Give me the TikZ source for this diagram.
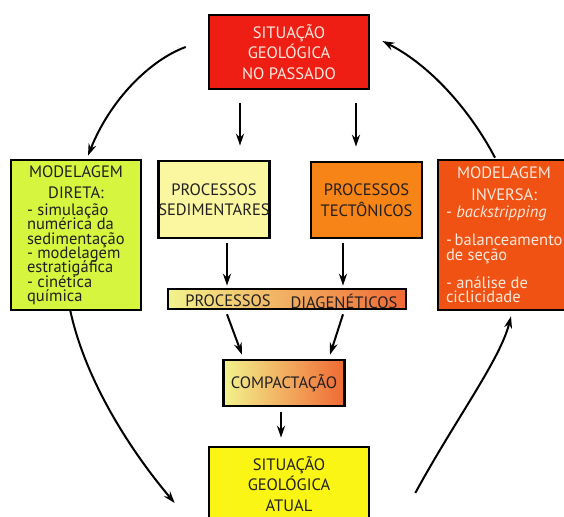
\documentclass[tikz,border=0pt]{standalone}
\usepackage{fontspec}
\setmainfont{PT Sans}
\usetikzlibrary{arrows.meta}
\definecolor{txt}{RGB}{35,31,32}
\definecolor{cRed}{RGB}{238,30,20}
\definecolor{cLight}{RGB}{255,232,220}
\definecolor{cGreen}{RGB}{214,245,62}
\definecolor{cSed}{RGB}{250,247,160}
\definecolor{cTect}{RGB}{246,132,22}
\definecolor{cInv}{RGB}{240,82,20}
\definecolor{cGradL}{RGB}{242,243,140}
\definecolor{cGradR}{RGB}{240,105,52}
\definecolor{cAtual}{RGB}{250,245,20}
\begin{document}
\begin{tikzpicture}[x=1pt,y=-1pt,
  box/.style={draw=black, line width=2.6pt, inner sep=0pt, text=txt, align=center,
    font=\fontsize{16.5}{20.5}\selectfont},
  lbl/.style={inner sep=0pt, text=txt, font=\fontsize{16.5}{20}\selectfont},
  arr/.style={line width=2pt, -{Stealth[length=12pt,width=8pt]}}]
\path[use as bounding box] (0,0) rectangle (564,516);
\fill[white] (0,0) rectangle (564,516);
\clip (0,0) rectangle (564,516);

\node[box, fill=cRed, text=cLight, minimum width=160pt, minimum height=74pt] (past) at (289,52) {SITUAÇÃO\\GEOLÓGICA\\NO PASSADO};
\node[box, fill=cSed, minimum width=110pt, minimum height=77pt] (sed) at (214,199.5) {PROCESSOS\\SEDIMENTARES};
\node[box, fill=cTect, minimum width=111pt, minimum height=76pt] (tect) at (366.5,200) {PROCESSOS\\TECTÔNICOS};
\node[box, fill=cGreen, minimum width=130pt, minimum height=150pt, font=\fontsize{16.5}{14.3}\selectfont] (dir) at (76,235)
 {\parbox{98pt}{\lineskiplimit=-50pt\hyphenpenalty=10000\centering MODELAGEM\\[7pt]DIRETA:\par\vspace{3pt}\raggedright
  \hangindent=6pt\hangafter=1 \mbox{- simulação}\\numérica da\\\mbox{sedimentação}\par
  \hangindent=6pt\hangafter=1 \mbox{- modelagem}\\estratigáfica\par
  \hangindent=6pt\hangafter=1 \mbox{- cinética}\\química\par}};
\node[box, fill=cInv, text=cLight, minimum width=132pt, minimum height=150pt, font=\fontsize{16.5}{14.3}\selectfont] (inv) at (504,235)
 {\parbox{116pt}{\lineskiplimit=-50pt\hyphenpenalty=10000\centering MODELAGEM\\[7pt]INVERSA:\par\vspace{3pt}\raggedright
  \hangindent=5pt\hangafter=1 \mbox{- \textit{backstripping}}\par\vspace{14pt}
  \hangindent=5pt\hangafter=1 \mbox{-\,balanceamento}\\de seção\par\vspace{14pt}
  \hangindent=5pt\hangafter=1 \mbox{- análise de}\\ciclicidade\par}};
\node[box, left color=cGradL, right color=cGradR, minimum width=238pt, minimum height=20pt] (diag) at (287,299) {};
\node[lbl] (diagA) at (228,301) {PROCESSOS};
\node[lbl] (diagB) at (344,301) {DIAGENÉTICOS};
\node[box, left color=cGradL, right color=cGradR, minimum width=121pt, minimum height=46pt] (comp) at (284,383) {COMPACTAÇÃO};
\node[box, fill=cAtual, minimum width=160pt, minimum height=74pt] (atual) at (289,484) {SITUAÇÃO\\GEOLÓGICA\\ATUAL};

% straight connectors
\draw[arr] ([xshift=-49pt,yshift=-13pt]past.south) -- ([xshift=26pt,yshift=14pt]sed.north);
\draw[arr] ([xshift=67pt,yshift=-13pt]past.south) -- ([xshift=-10.5pt,yshift=14pt]tect.north);
\draw[arr] ([xshift=13pt,yshift=-4pt]sed.south) -- ([xshift=-60pt,yshift=2pt]diag.north);
\draw[arr] ([xshift=-23.5pt,yshift=-4pt]tect.south) -- ([xshift=56pt,yshift=2pt]diag.north);
\draw[arr] ([xshift=-60pt,yshift=-4pt]diag.south) -- ([xshift=-42pt,yshift=4pt]comp.north);
\draw[arr] ([xshift=56pt,yshift=-4pt]diag.south) -- ([xshift=46pt,yshift=4pt]comp.north);
\draw[arr] ([xshift=-3pt,yshift=-5pt]comp.south) -- ([xshift=-8pt,yshift=8pt]atual.north);

% curved connectors
\draw[arr] ([xshift=-22pt,yshift=5pt]past.west) .. controls (150,60) and (110,100) .. ([xshift=12pt,yshift=3pt]dir.north);
\draw[arr] ([xshift=-6pt,yshift=2pt]dir.south) .. controls (85,380) and (130,450) .. ([xshift=-33pt,yshift=-19pt]atual.west);
\draw[arr] ([xshift=45pt,yshift=-9pt]atual.east) .. controls (455,420) and (500,360) .. ([xshift=7pt,yshift=-5pt]inv.south);
\draw[arr] ([xshift=-9pt,yshift=1pt]inv.north) .. controls (470,110) and (430,65) .. ([xshift=12pt,yshift=11pt]past.east);
\end{tikzpicture}
\end{document}
